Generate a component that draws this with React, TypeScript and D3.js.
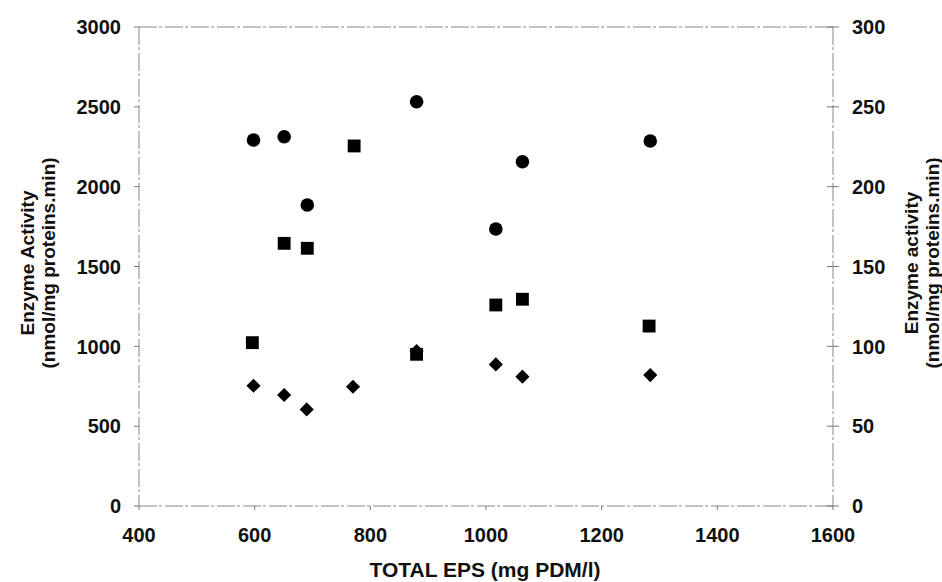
import * as React from 'react';
import * as d3 from 'd3';

// data (x = total EPS, y = enzyme activity)
const circleX = [598, 651, 691, 880, 1017, 1063, 1284];
const circleY = [2292, 2313, 1885, 2532, 1735, 2156, 2286];
const squareX = [596, 651, 691, 772, 880, 1017, 1063, 1282];
const squareY = [1023, 1645, 1614, 2255, 950, 1259, 1295, 1127];
const diamondX = [598, 651, 690, 770, 880, 1017, 1063, 1284];
const diamondY = [753, 695, 605, 747, 970, 887, 810, 820];

const xTicks = [400, 600, 800, 1000, 1200, 1400, 1600];
const leftTicks = [0, 500, 1000, 1500, 2000, 2500, 3000];
const rightTicks = [0, 50, 100, 150, 200, 250, 300];

const W = 942, H = 582;
const FONT = 'Arial, "Liberation Sans", sans-serif';

export default function App() {
  const ref = React.useRef<SVGSVGElement>(null);

  React.useEffect(() => {
    const svg = d3.select(ref.current);
    svg.selectAll('*').remove();

    const x = d3.scaleLinear().domain([400, 1600]).range([139, 833]);
    const yL = d3.scaleLinear().domain([0, 3000]).range([506, 27]);
    const yR = d3.scaleLinear().domain([0, 300]).range([506, 27]);
    const [x0, x1] = x.range();
    const [yb, yt] = yL.range();

    const g = svg.append('g');
    const lineStyle = (sel: any) =>
      sel.attr('stroke', '#888').attr('stroke-width', 1).attr('stroke-dasharray', '18 2 3 3').attr('fill', 'none');

    // frame
    g.append('line').attr('x1', x0).attr('x2', x1).attr('y1', yb).attr('y2', yb).call(lineStyle);
    g.append('line').attr('x1', x0).attr('x2', x1).attr('y1', yt).attr('y2', yt).call(lineStyle);
    g.append('line').attr('x1', x0).attr('x2', x0).attr('y1', yt).attr('y2', yb).call(lineStyle);
    g.append('line').attr('x1', x1).attr('x2', x1).attr('y1', yt).attr('y2', yb).call(lineStyle);

    const label = (sel: any, size = 20) =>
      sel.attr('font-family', FONT).attr('font-weight', 'bold').attr('font-size', size).attr('fill', '#111');

    // left ticks
    g.selectAll('.lt').data(leftTicks).enter().append('line')
      .attr('x1', x0 - 5).attr('x2', x0).attr('y1', d => yL(d)).attr('y2', d => yL(d))
      .attr('stroke', '#777');
    g.selectAll('.ll').data(leftTicks).enter().append('text')
      .attr('x', x0 - 18).attr('y', d => yL(d)).attr('dy', '0.36em')
      .attr('text-anchor', 'end').call(label).text(d => d);

    // right ticks
    g.selectAll('.rt').data(rightTicks).enter().append('line')
      .attr('x1', x1 - 6).attr('x2', x1 + 6).attr('y1', d => yR(d)).attr('y2', d => yR(d))
      .attr('stroke', '#777');
    g.selectAll('.rl').data(rightTicks).enter().append('text')
      .attr('x', x1 + 19).attr('y', d => yR(d)).attr('dy', '0.36em')
      .attr('text-anchor', 'start').call(label).text(d => d);

    // x ticks
    g.selectAll('.xt').data(xTicks).enter().append('line')
      .attr('x1', d => x(d)).attr('x2', d => x(d)).attr('y1', yb).attr('y2', yb + 4)
      .attr('stroke', '#777');
    g.selectAll('.xl').data(xTicks).enter().append('text')
      .attr('x', d => x(d)).attr('y', 542)
      .attr('text-anchor', 'middle').call(label).text(d => d);

    // titles
    g.append('text').attr('x', 485).attr('y', 577)
      .attr('text-anchor', 'middle').call(label, 21).text('TOTAL EPS (mg PDM/l)');

    const yTitle = (cx: number, lines: string[]) => {
      const t = g.append('text').attr('transform', `translate(${cx},263) rotate(-90)`)
        .attr('text-anchor', 'middle').call(label, 19);
      lines.forEach((s, i) => t.append('tspan').attr('x', 0).attr('dy', i === 0 ? 0 : 21).text(s));
    };
    yTitle(34, ['Enzyme Activity', '(nmol/mg proteins.min)']);
    yTitle(918, ['Enzyme activity', '(nmol/mg proteins.min)']);

    // markers
    const sq = d3.symbol().type(d3.symbolSquare).size(165);

    g.selectAll('.sq').data(d3.range(squareX.length)).enter().append('path')
      .attr('d', sq).attr('transform', i => `translate(${x(squareX[i])},${yL(squareY[i])})`)
      .attr('fill', '#000');
    g.selectAll('.dm').data(d3.range(diamondX.length)).enter().append('path')
      .attr('d', d3.symbol().type(d3.symbolSquare).size(100))
      .attr('transform', i => `translate(${x(diamondX[i])},${yL(diamondY[i])}) rotate(45)`)
      .attr('fill', '#000');
    g.selectAll('.ci').data(d3.range(circleX.length)).enter().append('circle')
      .attr('cx', i => x(circleX[i])).attr('cy', i => yL(circleY[i])).attr('r', 6.8)
      .attr('fill', '#000');
  }, []);

  return (
    <svg ref={ref} width={W} height={H}
      style={{ position: 'absolute', left: 0, top: 0, background: '#fff' }} />
  );
}
